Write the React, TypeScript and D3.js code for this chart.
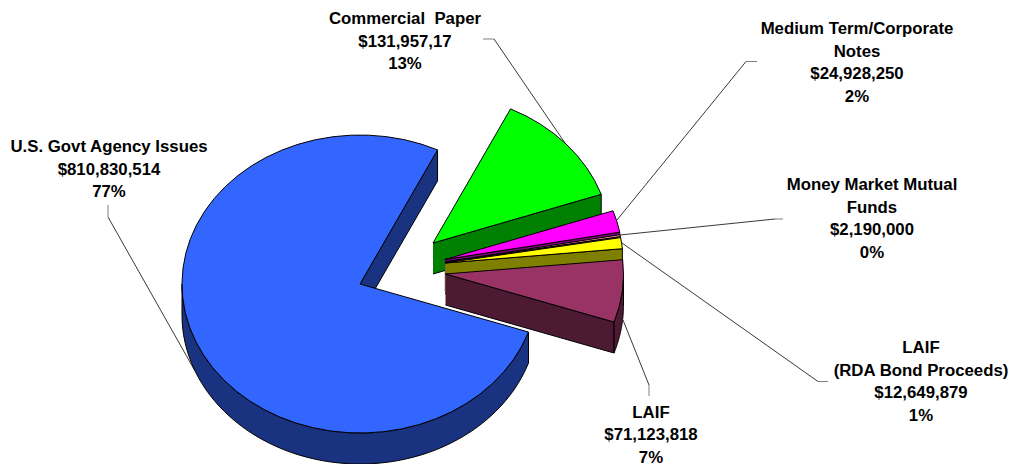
import * as d3 from "d3";

// Values as printed on the chart
const categories = [
  "U.S. Govt Agency Issues",
  "Commercial Paper",
  "Medium Term/Corporate Notes",
  "Money Market Mutual Funds",
  "LAIF (RDA Bond Proceeds)",
  "LAIF",
];
const amounts = [810830514, 131957170, 24928250, 2190000, 12649879, 71123818];
const topColors = ["#3366ff", "#00ff00", "#ff00ff", "#ff9999", "#ffff00", "#993366"];

// Multi-line labels, the way the chart breaks them
const labelLines = [
  ["U.S. Govt Agency Issues", "$810,830,514", "77%"],
  ["Commercial  Paper", "$131,957,17", "13%"],
  ["Medium Term/Corporate", "Notes", "$24,928,250", "2%"],
  ["Money Market Mutual", "Funds", "$2,190,000", "0%"],
  ["LAIF", "(RDA Bond Proceeds)", "$12,649,879", "1%"],
  ["LAIF", "$71,123,818", "7%"],
];

// Layout
const width = 1013;
const height = 464;
const cx = 360;
const cy = 284;
const rx = 178;
const ry = 149;
const depth = 31;
const firstAngle = (108.8 * Math.PI) / 180;
const explode: [number, number][] = [
  [0, 0],
  [73, -41],
  [84.8, -24.5],
  [85, -22],
  [85.2, -21],
  [85.5, -10],
];
const labelAnchors: [number, number][] = [
  [109, 151.8],
  [405, 23.8],
  [857, 33.8],
  [872, 189.8],
  [921, 352.8],
  [651, 417.6],
];
const lineGap = 22.8;
// grey stub next to the label, then the dark run to the slice
const stubs: [number, number][][] = [
  [[108, 205], [108, 217]],
  [[483, 39], [494, 39]],
  [[757, 61.5], [746, 61.5]],
  [[783, 219], [775, 219]],
  [[828, 381.5], [818, 381.5]],
  [[649, 396], [649, 385]],
];
const leaders: [number, number][][] = [
  [[108, 217], [195, 371]],
  [[494, 39], [565, 143]],
  [[746, 61.5], [617, 220]],
  [[775, 219], [620, 235]],
  [[818, 381.5], [622, 243]],
  [[649, 385], [623, 320]],
];

const arcs = d3
  .pie<number>()
  .sort(null)
  .startAngle(firstAngle)
  .endAngle(firstAngle + 2 * Math.PI)(amounts);

const topArc = d3.arc<d3.PieArcDatum<number>>().innerRadius(0).outerRadius(rx);
const polyline = d3.line<[number, number]>();

const rim = (a: number, dx: number, dy: number, drop = 0): [number, number] => [
  cx + dx + rx * Math.sin(a),
  cy + dy - ry * Math.cos(a) + drop,
];

function darken(c: string) {
  const r = d3.rgb(c);
  return d3.rgb(r.r / 2, r.g / 2, r.b / 2).formatHex();
}

// side wall on the edge that faces the viewer
function edgeWall(a: number, dx: number, dy: number) {
  const apex: [number, number] = [cx + dx, cy + dy];
  return polyline([
    apex,
    rim(a, dx, dy),
    rim(a, dx, dy, depth),
    [apex[0], apex[1] + depth],
  ])!;
}

// outer wall, only where the rim is on the lower half of the ellipse
function rimWall(start: number, end: number, dx: number, dy: number) {
  const tau = 2 * Math.PI;
  const out: string[] = [];
  for (const shift of [0, tau]) {
    const from = Math.max(start, Math.PI / 2 + shift);
    const to = Math.min(end, (3 * Math.PI) / 2 + shift);
    if (to <= from) continue;
    const steps = d3.range(0, 61).map((i) => from + ((to - from) * i) / 60);
    const pts = [
      ...steps.map((a) => rim(a, dx, dy)),
      ...steps.reverse().map((a) => rim(a, dx, dy, depth)),
    ];
    out.push(polyline(pts)! + "Z");
  }
  return out;
}

export default function App() {
  // back to front: the big slice last so its face sits over the neighbours
  const order = [1, 2, 3, 4, 5, 0];
  return (
    <svg
      width={width}
      height={height}
      style={{ position: "absolute", left: 0, top: 0, background: "#fff" }}
      fontFamily="'Liberation Sans', Arial, sans-serif"
    >
      {stubs.map((pts, i) => (
        <path key={i} d={polyline(pts)!} fill="none" stroke="#808080" strokeWidth={1} />
      ))}
      {leaders.map((pts, i) => (
        <path key={i} d={polyline(pts)!} fill="none" stroke="#222" strokeWidth={0.9} />
      ))}
      {order.map((i) => {
        const d = arcs[i];
        const [dx, dy] = explode[i];
        const wall = darken(topColors[i]);
        return (
          <g key={categories[i]} stroke="#000" strokeWidth={1} strokeLinejoin="round">
            {Math.sin(d.endAngle) > 0 && <path d={edgeWall(d.endAngle, dx, dy)} fill={wall} />}
            {rimWall(d.startAngle, d.endAngle, dx, dy).map((p, k) => (
              <path key={k} d={p} fill={wall} />
            ))}
            <path
              d={topArc(d)!}
              transform={`translate(${cx + dx},${cy + dy}) scale(1,${ry / rx})`}
              fill={topColors[i]}
              vectorEffect="non-scaling-stroke"
            />
          </g>
        );
      })}
      {labelLines.map((lines, i) => (
        <text
          key={i}
          textAnchor="middle"
          fontSize={16.8}
          fontWeight="bold"
          fill="#000"
          style={{ whiteSpace: "pre" }}
        >
          {lines.map((t, k) => (
            <tspan key={k} x={labelAnchors[i][0]} y={labelAnchors[i][1] + k * lineGap}>
              {t}
            </tspan>
          ))}
        </text>
      ))}
    </svg>
  );
}
